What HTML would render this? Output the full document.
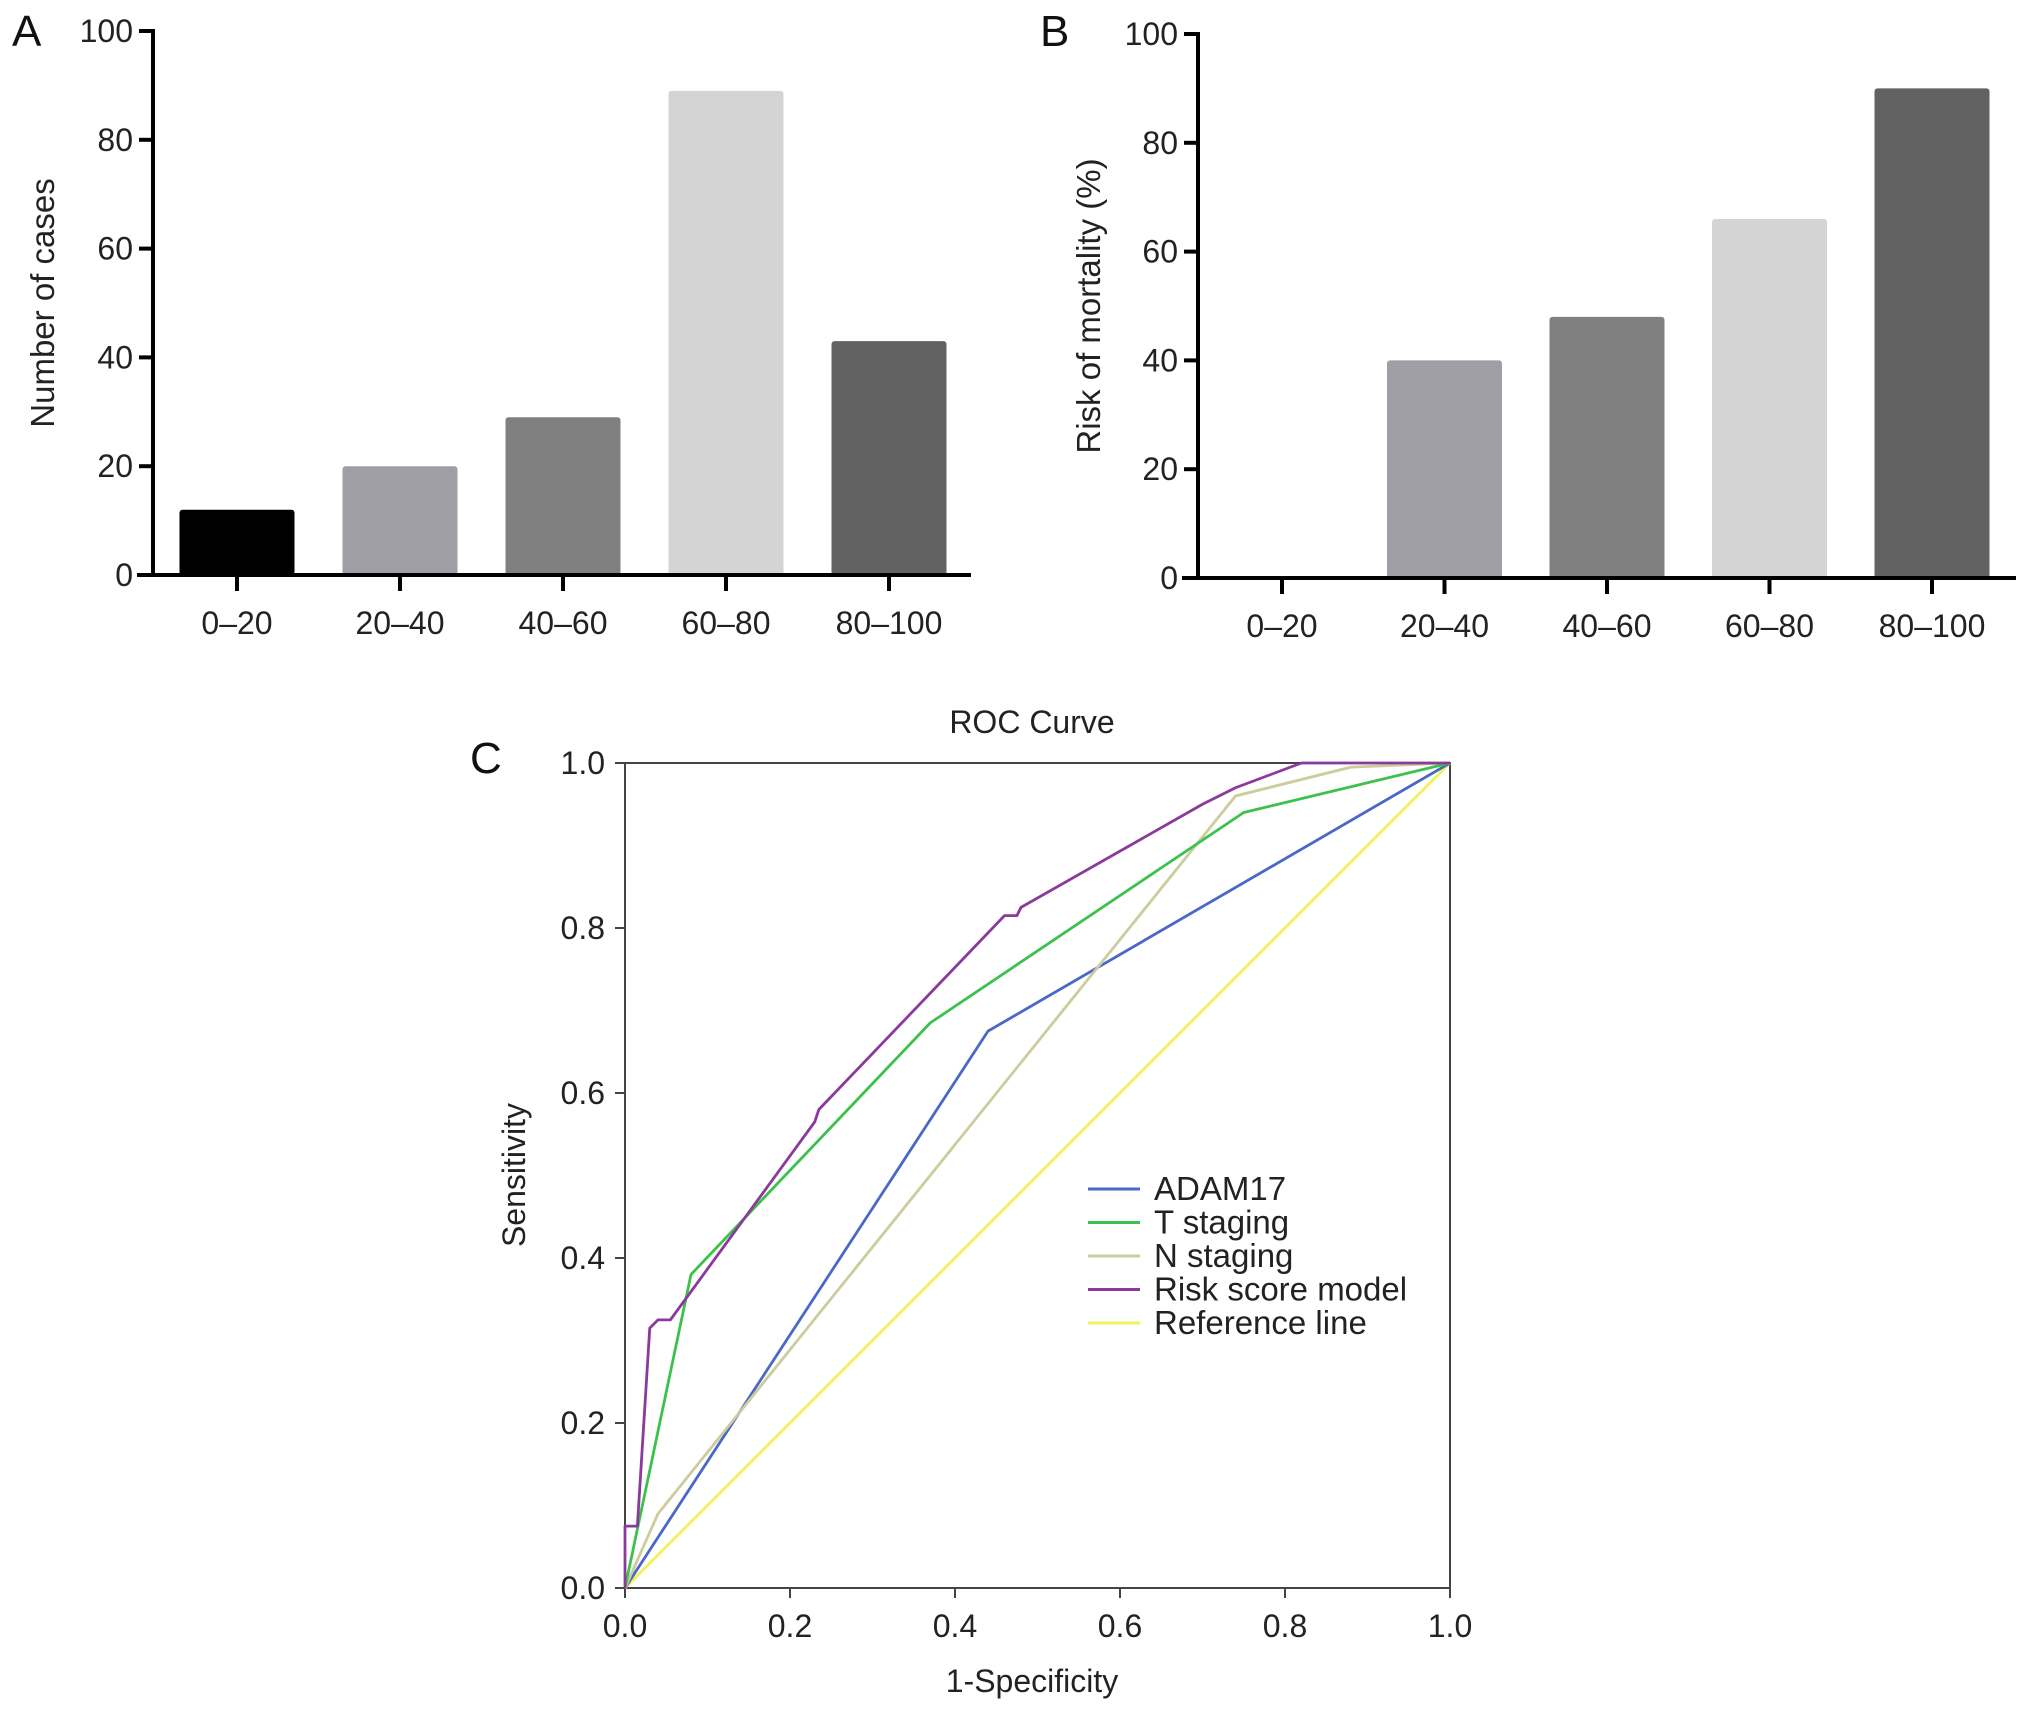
<!DOCTYPE html>
<html><head><meta charset="utf-8"><style>
html,body{margin:0;padding:0;background:#fff;}
svg{display:block;font-family:"Liberation Sans",Arial,sans-serif;}
</style></head><body>
<svg id="fig" width="2031" height="1711" viewBox="0 0 2031 1711"></svg>
<script>
const catsA = ["0–20","20–40","40–60","60–80","80–100"];
const valsA = [12,20,29,89,43];
const catsB = ["0–20","20–40","40–60","60–80","80–100"];
const valsB = [0,40,48,66,90];
const barColors = ["#000000","#9e9ea4","#808080","#d4d4d4","#626262"];
const barTicks = [0,20,40,60,80,100];
const rocTicks = [0.0,0.2,0.4,0.6,0.8,1.0];
const adamX = [0,0.44,1];
const adamY = [0,0.675,1];
const tX = [0,0.08,0.37,0.75,1];
const tY = [0,0.38,0.685,0.94,1];
const nX = [0,0.04,0.74,0.88,1];
const nY = [0,0.09,0.96,0.995,1];
const riskX = [0,0,0.015,0.03,0.04,0.055,0.23,0.235,0.46,0.475,0.48,0.7,0.72,0.74,0.82,1];
const riskY = [0,0.075,0.075,0.315,0.325,0.325,0.565,0.58,0.815,0.815,0.825,0.95,0.96,0.97,1,1];
const refX = [0,1];
const refY = [0,1];

const NS="http://www.w3.org/2000/svg";
const svg=document.getElementById('fig');
function mk(tag,attrs,parent,text){const e=document.createElementNS(NS,tag);for(const k in attrs)e.setAttribute(k,attrs[k]);if(text!==undefined)e.textContent=text;(parent||svg).appendChild(e);return e;}

function barPanel(name,cats,vals,ax,yTop,y0,xRight,centers0,step,ylabel,letter,letterX,ylabelX){
  const g=mk('g',{});
  
  
  const y=v=>y0-(v/100)*(y0-yTop);
  const xc=i=>centers0+i*step;
  const bw=115;
  vals.forEach((v,i)=>{
    if(v<=0)return;
    const r=mk('rect',{x:xc(i)-bw/2,y:y(v),width:bw,height:y0-y(v),fill:barColors[i],rx:3},g);
    
    
  });
  const ya=mk('line',{x1:ax,y1:yTop-2,x2:ax,y2:y0+2,stroke:'#000','stroke-width':4},g);
  
  
  const xa=mk('line',{x1:ax-16,y1:y0,x2:xRight,y2:y0,stroke:'#000','stroke-width':4},g);
  
  
  barTicks.forEach(t=>{
    mk('line',{x1:ax-14,y1:y(t),x2:ax,y2:y(t),stroke:'#000','stroke-width':4},g);
    const tl=mk('text',{x:ax-20,y:y(t)+11,'text-anchor':'end','font-size':32,fill:'#222'},g,String(t));
    
    
  });
  cats.forEach((c,i)=>{
    mk('line',{x1:xc(i),y1:y0,x2:xc(i),y2:y0+16,stroke:'#000','stroke-width':4},g);
    const tl=mk('text',{x:xc(i),y:y0+59,'text-anchor':'middle','font-size':32,fill:'#222'},g,c);
    
    
  });
  const yl=mk('text',{x:ylabelX,y:(yTop+y0)/2,'text-anchor':'middle','font-size':33,fill:'#222',transform:`rotate(-90 ${ylabelX} ${(yTop+y0)/2})`},g,ylabel);
  
  
  const lt=mk('text',{x:letterX,y:46,'font-size':44,fill:'#111'},g,letter);
  
  
}
barPanel('panel-a-chart',catsA,valsA,153,31,575,971,237,163,'Number of cases','A',12,54);
barPanel('panel-b-chart',catsB,valsB,1198,34,578,2016,1282,162.5,'Risk of mortality (%)','B',1040,1100);

// ROC
const L=625,R=1450,T=763,B=1588;
const sx=v=>L+v*(R-L), sy=v=>B-v*(B-T);
const gc=mk('g',{});


const frame=mk('rect',{x:L,y:T,width:R-L,height:B-T,fill:'none',stroke:'#444','stroke-width':2},gc);


rocTicks.forEach(t=>{
  mk('line',{x1:L-10,y1:sy(t),x2:L,y2:sy(t),stroke:'#444','stroke-width':2},gc);
  const a=mk('text',{x:L-20,y:sy(t)+11,'text-anchor':'end','font-size':32,fill:'#222'},gc,t.toFixed(1));
  
  
  mk('line',{x1:sx(t),y1:B,x2:sx(t),y2:B+10,stroke:'#444','stroke-width':2},gc);
  const b=mk('text',{x:sx(t),y:B+49,'text-anchor':'middle','font-size':32,fill:'#222'},gc,t.toFixed(1));
  
  
});
const series=[
  ['Reference line',refX,refY,'#f2f25a'],
  ['ADAM17',adamX,adamY,'#4a68c8'],
  ['N staging',nX,nY,'#cccc9c'],
  ['T staging',tX,tY,'#3cc24c'],
  ['Risk score model',riskX,riskY,'#8a3a9a'],
];
series.forEach(s=>{
  const pts=s[1].map((x,i)=>sx(x)+','+sy(s[2][i])).join(' ');
  const p=mk('polyline',{points:pts,fill:'none',stroke:s[3],'stroke-width':2.8,'stroke-linejoin':'round'},gc);
  
  
});
const legOrder=[['ADAM17','#4a68c8'],['T staging','#3cc24c'],['N staging','#cccc9c'],['Risk score model','#8a3a9a'],['Reference line','#f2f25a']];
legOrder.forEach((e,i)=>{
  const yy=1189+i*33.5;
  const lg=mk('g',{},gc);
  
  
  mk('line',{x1:1088,y1:yy,x2:1140,y2:yy,stroke:e[1],'stroke-width':3},lg);
  mk('text',{x:1154,y:yy+11,'font-size':33,fill:'#222'},lg,e[0]);
});
const tt=mk('text',{x:1032,y:733,'text-anchor':'middle','font-size':32,fill:'#222'},gc,'ROC Curve');


const xt=mk('text',{x:1032,y:1692,'text-anchor':'middle','font-size':32,fill:'#222'},gc,'1-Specificity');


const yt=mk('text',{x:525,y:1175,'text-anchor':'middle','font-size':32,fill:'#222',transform:'rotate(-90 525 1175)'},gc,'Sensitivity');


const cl=mk('text',{x:470,y:773,'font-size':44,fill:'#111'},gc,'C');


</script>
</body></html>
